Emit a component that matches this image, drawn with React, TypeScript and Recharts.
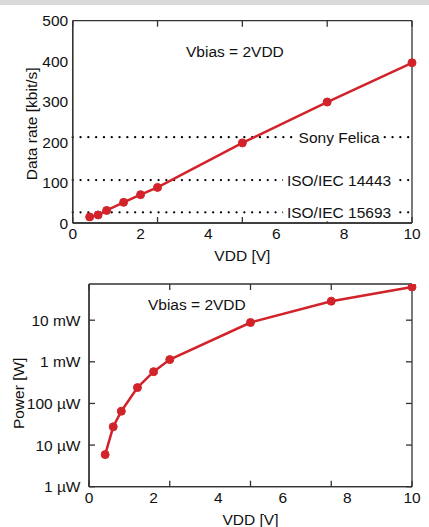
import React from 'react';
import {
  LineChart,
  Line,
  XAxis,
  YAxis,
  ReferenceLine,
  ReferenceDot,
} from 'recharts';

const vdd = [0.5, 0.75, 1, 1.5, 2, 2.5, 5, 7.5, 10];
const dataRate = [15, 20, 31, 51, 70, 88, 198, 299, 396];
const power = [5.9e-6, 2.75e-5, 6.5e-5, 2.4e-4, 5.8e-4, 1.13e-3, 8.8e-3, 2.86e-2, 6.3e-2];

const xTicks = [0, 2, 4, 6, 8, 10];
const rateTicks = [0, 100, 200, 300, 400, 500];
const powerTicks = [1e-6, 1e-5, 1e-4, 1e-3, 1e-2];
const powerTickLabels = ['1 µW', '10 µW', '100 µW', '1 mW', '10 mW'];

const standards = [
  { name: 'Sony Felica', rate: 212, labelWidth: 88 },
  { name: 'ISO/IEC 14443', rate: 106, labelWidth: 112 },
  { name: 'ISO/IEC 15693', rate: 26.5, labelWidth: 112 },
];

const rateData = vdd.map((v, i) => ({ vdd: v, rate: dataRate[i] }));
const powerData = vdd.map((v, i) => ({ vdd: v, power: power[i] }));

const RED = '#d2232a';
const FRAME = '#333';
const FONT = '"Liberation Sans", Arial, sans-serif';
const FS = 15.5;
const tickStyle = { fill: '#111', fontSize: FS, fontFamily: FONT };
const labelStyle = { fontSize: FS, fontFamily: FONT, fill: '#111' };

function BoxedLabel(props: any) {
  const { viewBox, value, width } = props;
  const cx = viewBox.x + (viewBox.width || 0) / 2;
  const cy = viewBox.y + (viewBox.height || 0) / 2;
  return (
    <g>
      <rect x={cx - width / 2} y={cy - 9} width={width} height={18} fill="#fff" />
      <text x={cx} y={cy} textAnchor="middle" dominantBaseline="central" style={labelStyle}>
        {value}
      </text>
    </g>
  );
}

function TextLabel(props: any) {
  const { viewBox, value } = props;
  const cx = viewBox.x + (viewBox.width || 0) / 2;
  const cy = viewBox.y + (viewBox.height || 0) / 2;
  return (
    <text x={cx} y={cy} textAnchor="middle" dominantBaseline="central" style={labelStyle}>
      {value}
    </text>
  );
}

const blank = () => '';

// axis with labels and frame line, no tick marks
const mainAxis = {
  stroke: FRAME,
  strokeWidth: 1.3,
  tickLine: false,
  tickSize: 0,
  tick: tickStyle,
  fontSize: FS,
  fontFamily: FONT,
};

// mirrored helper axes: draw inward tick marks only
const tickAxis = {
  mirror: true,
  stroke: FRAME,
  strokeWidth: 1.3,
  tickSize: 6,
  tickFormatter: blank,
};

export default function App() {
  return (
    <div style={{ position: 'absolute', left: 0, top: 0, width: 429, height: 527, background: '#fff' }}>
      <div style={{ height: 5, background: '#d9d9d9' }} />
      <div style={{ position: 'absolute', left: 0, top: 0 }}>
        <LineChart
          width={429}
          height={265}
          data={rateData}
          margin={{ top: 20.7, right: 17, left: 0, bottom: 2 }}
        >
          <XAxis
            dataKey="vdd"
            type="number"
            domain={[0, 10]}
            ticks={xTicks}
            height={40}
            {...mainAxis}
            tickMargin={5}
            label={{ value: 'VDD [V]', position: 'insideBottom', offset: 2, style: labelStyle }}
          />
          <XAxis xAxisId="bt" orientation="bottom" type="number" domain={[0, 10]} ticks={xTicks} height={6} {...tickAxis} />
          <XAxis xAxisId="tp" orientation="top" type="number" domain={[0, 10]} ticks={xTicks} height={6} {...tickAxis} />
          <YAxis
            type="number"
            domain={[0, 500]}
            ticks={rateTicks}
            width={72.7}
            {...mainAxis}
            tickMargin={4.5}
            label={{ value: 'Data rate [kbit/s]', angle: -90, position: 'center', dx: -5, dy: 2, style: labelStyle }}
          />
          <YAxis yAxisId="lt" orientation="left" type="number" domain={[0, 500]} ticks={rateTicks} width={6} {...tickAxis} />
          <YAxis yAxisId="rt" orientation="right" type="number" domain={[0, 500]} ticks={rateTicks} width={6} {...tickAxis} />
          {standards.map((s) => (
            <ReferenceLine
              key={s.name}
              y={s.rate}
              stroke="#000"
              strokeWidth={2.2}
              strokeDasharray="0.1 7.7"
              strokeLinecap="round"
              segment={[{ x: 0.27, y: s.rate }, { x: 9.9, y: s.rate }]}
            />
          ))}
          {standards.map((s) => (
            <ReferenceDot
              key={s.name + '-label'}
              x={7.85}
              y={s.rate}
              r={0}
              fill="none"
              stroke="none"
              label={<BoxedLabel value={s.name} width={s.labelWidth} />}
            />
          ))}
          <ReferenceDot x={4.78} y={423} r={0} fill="none" stroke="none" label={<TextLabel value="Vbias = 2VDD" />} />
          <Line
            dataKey="rate"
            stroke={RED}
            strokeWidth={2.5}
            dot={{ r: 4, fill: RED, stroke: RED, strokeWidth: 1 }}
            isAnimationActive={false}
          />
        </LineChart>
      </div>
      <div style={{ position: 'absolute', left: 0, top: 265 }}>
        <LineChart
          width={429}
          height={262}
          data={powerData}
          margin={{ top: 19, right: 17, left: 0, bottom: 0.3 }}
        >
          <XAxis
            dataKey="vdd"
            type="number"
            domain={[0, 10]}
            ticks={xTicks}
            height={40}
            {...mainAxis}
            tickMargin={5}
            label={{ value: 'VDD [V]', position: 'insideBottom', offset: 2, style: labelStyle }}
          />
          <XAxis xAxisId="bt" orientation="bottom" type="number" domain={[0, 10]} ticks={xTicks} height={6} {...tickAxis} />
          <XAxis xAxisId="tp" orientation="top" type="number" domain={[0, 10]} ticks={xTicks} height={6} {...tickAxis} />
          <YAxis
            type="number"
            scale="log"
            domain={[1e-6, 0.074]}
            allowDataOverflow
            ticks={powerTicks}
            tickFormatter={(v: number) => powerTickLabels[powerTicks.findIndex((t) => Math.abs(t - v) / t < 1e-6)] ?? ''}
            width={89}
            {...mainAxis}
            tickMargin={8.5}
            label={{ value: 'Power [W]', angle: -90, position: 'center', dx: -26, dy: 8, style: labelStyle }}
          />
          <YAxis yAxisId="lt" orientation="left" type="number" scale="log" domain={[1e-6, 0.074]} allowDataOverflow ticks={powerTicks} width={6} {...tickAxis} />
          <YAxis yAxisId="rt" orientation="right" type="number" scale="log" domain={[1e-6, 0.074]} allowDataOverflow ticks={powerTicks} width={6} {...tickAxis} />
          <ReferenceDot x={3.34} y={0.0234} r={0} fill="none" stroke="none" label={<TextLabel value="Vbias = 2VDD" />} />
          <Line
            dataKey="power"
            stroke={RED}
            strokeWidth={2.5}
            dot={{ r: 4, fill: RED, stroke: RED, strokeWidth: 1 }}
            isAnimationActive={false}
          />
        </LineChart>
      </div>
    </div>
  );
}
